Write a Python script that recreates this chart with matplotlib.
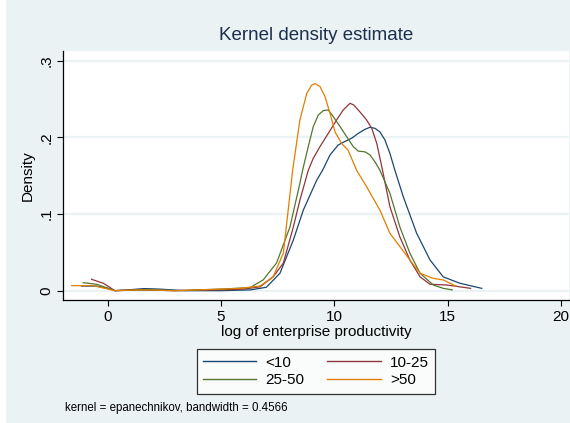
import matplotlib
matplotlib.use("Agg")
import matplotlib.pyplot as plt
from matplotlib.patches import Rectangle

plt.rcParams['font.family'] = ['Liberation Sans', 'DejaVu Sans']

# data
labels = ["<10", "10-25", "25-50", ">50"]
colors = ["#1a476f", "#90353b", "#55752f", "#e37e00"]

x_lt10 = [-1.15, -0.5, 0.0, 0.32, 0.9, 1.6, 2.3, 3.4, 5.0, 6.3, 7.0, 7.6, 8.19, 8.63, 9.22, 9.48,
          9.81, 10.17, 10.54, 10.76, 11.05, 11.35, 11.57, 11.79, 12.01, 12.23, 12.45, 12.67, 13.04,
          13.63, 14.22, 14.8, 15.54, 16.5]
y_lt10 = [0.006, 0.006, 0.003, 0.0, 0.001, 0.0027, 0.002, 0.0, 0.0, 0.001, 0.0044, 0.0227, 0.066,
          0.105, 0.144, 0.157, 0.177, 0.19, 0.1956, 0.1987, 0.205, 0.2104, 0.213, 0.2117, 0.207,
          0.1965, 0.179, 0.157, 0.1225, 0.0748, 0.040, 0.018, 0.0096, 0.003]

x_10_25 = [-0.71, -0.19, 0.32, 1.5, 3.0, 5.0, 6.0, 6.72, 7.3, 7.75, 8.19, 8.48, 8.85, 9.07, 9.37,
           9.73, 10.1, 10.39, 10.54, 10.69, 10.86, 11.13, 11.42, 11.65, 11.87, 12.09, 12.45, 12.89,
           13.33, 13.78, 14.22, 14.95, 16.01]
y_10_25 = [0.0148, 0.0096, 0.0, 0.001, 0.0, 0.001, 0.002, 0.005, 0.018, 0.036, 0.083, 0.118, 0.157,
           0.1726, 0.188, 0.205, 0.2226, 0.2356, 0.24, 0.2443, 0.242, 0.233, 0.2226, 0.2117, 0.192,
           0.162, 0.1095, 0.070, 0.040, 0.018, 0.0083, 0.0074, 0.003]

x_25_50 = [-1.08, -0.49, 0.32, 1.5, 3.0, 5.0, 6.28, 6.86, 7.45, 8.04, 8.48, 8.6, 8.85, 9.07, 9.29,
           9.51, 9.73, 9.95, 10.25, 10.54, 10.83, 11.05, 11.35, 11.57, 11.79, 12.01, 12.45, 12.89,
           13.33, 13.78, 14.36, 14.8, 15.2]
y_25_50 = [0.0104, 0.0083, 0.0, 0.001, 0.0, 0.002, 0.004, 0.014, 0.036, 0.083, 0.140, 0.157, 0.188,
           0.214, 0.229, 0.2347, 0.2356, 0.227, 0.214, 0.2008, 0.188, 0.182, 0.181, 0.177, 0.168,
           0.157, 0.127, 0.083, 0.049, 0.0227, 0.0074, 0.003, 0.001]

x_gt50 = [-1.59, -0.63, 0.32, 1.5, 3.0, 5.0, 5.84, 6.72, 7.3, 7.75, 8.16, 8.48, 8.78, 9.0, 9.15,
          9.37, 9.59, 9.81, 10.03, 10.32, 10.61, 10.98, 11.42, 12.01, 12.45, 12.89, 13.33, 13.78,
          14.36, 14.8, 15.35]
y_gt50 = [0.0065, 0.0065, 0.0, 0.001, 0.0, 0.002, 0.003, 0.006, 0.018, 0.049, 0.157, 0.2226, 0.257,
          0.268, 0.270, 0.266, 0.253, 0.231, 0.207, 0.192, 0.183, 0.157, 0.1356, 0.105, 0.0748,
          0.0574, 0.040, 0.0227, 0.016, 0.014, 0.006]

xs = [x_lt10, x_10_25, x_25_50, x_gt50]
ys = [y_lt10, y_10_25, y_25_50, y_gt50]

yticks = [0, 0.1, 0.2, 0.3]
ytick_labels = ["0", ".1", ".2", ".3"]
xticks = [0, 5, 10, 15, 20]

bg = "#eaf2f3"
W, H = 570, 423
fig = plt.figure(figsize=(5.7, 4.23), dpi=100, facecolor=bg)
fig.patches.append(Rectangle((0, 0), 5 / W, 1, transform=fig.transFigure, color="white", zorder=0))

ax = fig.add_axes([63 / W, 1 - 300 / H, 506 / W, 249 / H])
ax.set_facecolor("white")

lines = []
for x, y, c, lab in zip(xs, ys, colors, labels):
    ln, = ax.plot(x, y, color=c, lw=0.9, label=lab, solid_joinstyle="round")
    lines.append(ln)

ax.set_xlim(-1.97, 20.35)
ax.set_ylim(-0.0122, 0.3125)
ax.set_yticks(yticks)
ax.set_yticklabels(ytick_labels, rotation=90, va="center")
ax.set_xticks(xticks)
ax.grid(axis="y", color=bg, lw=1.6)
ax.set_axisbelow(True)
for s in ["top", "right"]:
    ax.spines[s].set_visible(False)
for s in ["left", "bottom"]:
    ax.spines[s].set_color("black")
    ax.spines[s].set_linewidth(0.9)
ax.tick_params(labelsize=11, length=4, width=0.8, pad=3)
ax.set_xlabel("log of enterprise productivity", fontsize=11, labelpad=1)
ax.set_ylabel("Density", fontsize=11, labelpad=3)

fig.text(316 / W, 1 - 35 / H, "Kernel density estimate", ha="center", va="center",
         fontsize=13.5, color="#1c2f4f")

# legend filled row by row like the original
order = [0, 2, 1, 3]
leg = fig.legend([lines[i] for i in order], [labels[i] for i in order],
                 loc="center", bbox_to_anchor=(316 / W, 1 - 371.5 / H), ncol=2, fontsize=11,
                 frameon=True, fancybox=False, edgecolor="black", handlelength=3.5,
                 columnspacing=1.5, handletextpad=0.6, labelspacing=0.25, borderpad=0.4)
leg.get_frame().set_linewidth(0.9)
leg.get_frame().set_facecolor("white")
for line in leg.get_lines():
    line.set_linewidth(1.0)

fig.text(65 / W, 1 - 408 / H, "kernel = epanechnikov, bandwidth = 0.4566", ha="left",
         va="center", fontsize=8.3)

fig.savefig("out.png", dpi=100, facecolor=bg)
